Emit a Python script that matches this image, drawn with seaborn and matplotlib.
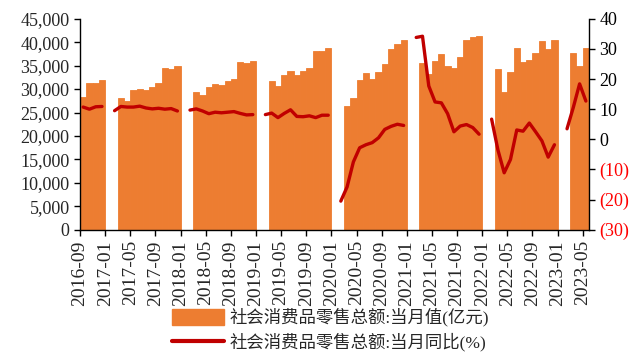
import numpy as np
import pandas as pd
import matplotlib.pyplot as plt
import seaborn as sns
from matplotlib.patches import Patch
from matplotlib.lines import Line2D

sns.set_style("ticks")
plt.rcParams["font.family"] = ["Liberation Serif", "Noto Sans CJK SC", "DejaVu Sans"]

# month labels, 2016-09 .. 2023-05
months = [p.strftime("%Y-%m") for p in pd.period_range("2016-09", "2023-05", freq="M")]

# retail sales, monthly value (100m yuan); Jan/Feb not published separately
sales = [
    28300, 31300, 31200, 32000,
    None, None, 28100, 27400, 29800, 30000, 29800, 30500, 31200, 34400, 34300, 34900,
    None, None, 29400, 28700, 30500, 31100, 30900, 31800, 32100, 35700, 35500, 36000,
    None, None, 31726, 30586, 32956, 33878, 33073, 33896, 34495, 38104, 38094, 38777,
    None, None, 26450, 28178, 31973, 33526, 32203, 33571, 35295, 38576, 39514, 40566,
    None, None, 35484, 33153, 35945, 37586, 34925, 34395, 36833, 40454, 41043, 41269,
    None, None, 34233, 29483, 33547, 38742, 35870, 36258, 37745, 40271, 38615, 40542,
    None, None, 37715, 34910, 38803,
]

# yoy growth (%), Feb holds the Jan-Feb figure
yoy = [
    10.7, 10.0, 10.8, 10.9,
    None, 9.5, 10.9, 10.7, 10.7, 11.0, 10.4, 10.1, 10.3, 10.0, 10.2, 9.4,
    None, 9.7, 10.1, 9.4, 8.5, 9.0, 8.8, 9.0, 9.2, 8.6, 8.1, 8.2,
    None, 8.2, 8.7, 7.2, 8.6, 9.8, 7.6, 7.5, 7.8, 7.2, 8.0, 8.0,
    None, -20.5, -15.8, -7.5, -2.8, -1.8, -1.1, 0.5, 3.3, 4.3, 5.0, 4.6,
    None, 33.8, 34.2, 17.7, 12.4, 12.1, 8.5, 2.5, 4.4, 4.9, 3.9, 1.7,
    None, 6.7, -3.5, -11.1, -6.7, 3.1, 2.7, 5.4, 2.5, -0.5, -5.9, -1.8,
    None, 3.5, 10.6, 18.4, 12.7,
]

bar_label = "社会消费品零售总额:当月值(亿元)"
line_label = "社会消费品零售总额:当月同比(%)"
orange = "#ED7D31"
red = "#C00000"

df = pd.DataFrame({"month": months, "sales": sales, "yoy": yoy})
df["sales"] = df["sales"].astype(float)
df["yoy"] = df["yoy"].astype(float)
df["pos"] = np.arange(len(df))
# split the line wherever a value is missing
df["seg"] = df["yoy"].isna().cumsum()

fig = plt.figure(figsize=(6.35, 3.54), dpi=100)
ax = fig.add_axes([0.126, 0.351, 0.8016, 0.596])

sns.barplot(data=df, x="month", y="sales", order=months, color=orange,
            width=1.0, errorbar=None, linewidth=0.6, edgecolor=orange,
            saturation=1, ax=ax)
ax.set_ylim(0, 45000)
ax.set_yticks(range(0, 45001, 5000))
ax.set_yticklabels([f"{v:,}" for v in range(0, 45001, 5000)], fontsize=13)
ax.set_xlim(-0.5, len(months) - 0.5)
tick_idx = list(range(0, len(months), 4))
ax.set_xticks([i - 0.5 for i in tick_idx])
ax.set_xticklabels([months[i] for i in tick_idx], rotation=90, fontsize=14)
ax.set_xlabel("")
ax.set_ylabel("")

ax2 = ax.twinx()
line_df = df.dropna(subset=["yoy"])
sns.lineplot(data=line_df, x="pos", y="yoy", units="seg", estimator=None,
             color=red, linewidth=2.4, solid_capstyle="round", ax=ax2)
ax2.set_ylim(-30, 40)
ax2.set_yticks(range(-30, 41, 10))
ax2.set_yticklabels([f"({-v})" if v < 0 else str(v) for v in range(-30, 41, 10)], fontsize=13)
for lab, v in zip(ax2.get_yticklabels(), range(-30, 41, 10)):
    lab.set_color("red" if v < 0 else "black")
ax2.set_xlim(-0.5, len(months) - 0.5)
ax2.set_xlabel("")
ax2.set_ylabel("")

for a in (ax, ax2):
    a.spines["top"].set_visible(False)
    for s in ("left", "right", "bottom"):
        a.spines[s].set_color("black")
        a.spines[s].set_linewidth(1.0)
    a.tick_params(length=4, width=1.0, color="black", direction="out")
ax.spines["right"].set_visible(False)
ax2.spines["left"].set_visible(False)
ax2.spines["bottom"].set_visible(False)

handles = [Patch(facecolor=orange, edgecolor=orange, label=bar_label),
           Line2D([], [], color=red, linewidth=3, label=line_label)]
fig.legend(handles=handles, loc="center", bbox_to_anchor=(0.52, 0.068),
           frameon=False, fontsize=12.5, handlelength=3.0, handleheight=1.1,
           handletextpad=0.3, labelspacing=0.35, ncol=1)

fig.savefig("out.png", dpi=100)
